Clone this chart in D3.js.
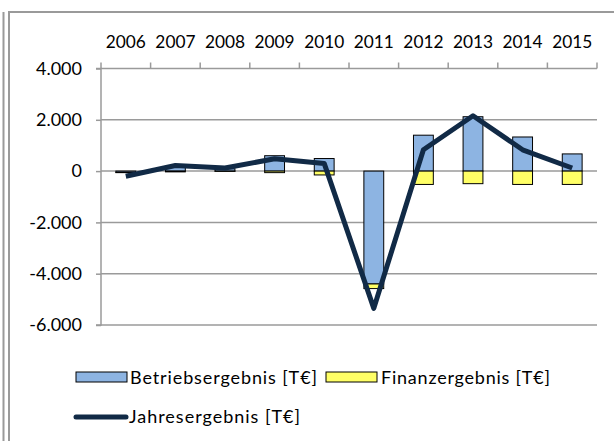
<!DOCTYPE html>
<html><head><meta charset="utf-8">
<script src="https://cdn.jsdelivr.net/npm/d3@7/dist/d3.min.js"></script>
<style>
html,body{margin:0;padding:0;background:#fff;}
svg{display:block;font-family:Lato,"Open Sans",sans-serif;}
</style></head>
<body><svg id="c" width="614" height="441"></svg>
<script>
const years = ["2006","2007","2008","2009","2010","2011","2012","2013","2014","2015"];
const betrieb = [-50, 180, 90, 600, 490, -4400, 1400, 2120, 1330, 670];
const finanz = [-10, -30, -10, -60, -150, -180, -520, -490, -520, -520];
const jahres = [-200, 220, 120, 480, 300, -5350, 830, 2160, 830, 120];
const yTicks = [4000, 2000, 0, -2000, -4000, -6000];
const seriesNames = ["Betriebsergebnis [T€]", "Finanzergebnis [T€]", "Jahresergebnis [T€]"];

(function(){
const svg = d3.select("#c");
const W = 614, H = 441;
const pl = 101, pr = 597, pt = 68.5, pb = 325;
const fmt = v => v === 0 ? "0" : (v < 0 ? "-" : "") + d3.format(",")(Math.abs(v)).replace(/,/g, ".");

// frame lines
const gray = "#9a9a9a";
svg.append("line").attr("x1",3.5).attr("x2",3.5).attr("y1",12).attr("y2",H).attr("stroke",gray).attr("stroke-width",2);
svg.append("line").attr("x1",9).attr("x2",9).attr("y1",12).attr("y2",H).attr("stroke",gray).attr("stroke-width",2);
svg.append("line").attr("x1",8).attr("x2",W).attr("y1",12).attr("y2",12).attr("stroke",gray).attr("stroke-width",2);

const x = d3.scaleBand().domain(years).range([pl, pr]).paddingInner(0.6).paddingOuter(0.3);
const xb = d3.scaleBand().domain(years).range([pl, pr]);
const y = d3.scaleLinear().domain([-6000, 4000]).range([pb, pt]);

// grid lines
svg.append("g").selectAll("line").data(yTicks).join("line")
  .attr("x1", pl).attr("x2", pr)
  .attr("y1", d => y(d)).attr("y2", d => y(d))
  .attr("stroke", gray).attr("stroke-width", 1.5);

// y axis
const ya = svg.append("g").attr("transform", `translate(${pl},0)`)
  .call(d3.axisLeft(y).tickValues(yTicks).tickSize(5).tickPadding(14).tickFormat(fmt));
ya.select(".domain").attr("stroke", gray).attr("stroke-width", 1.5).attr("d", `M-5,${pt}H0V${pb}H-5`);
ya.selectAll(".tick line").attr("stroke", gray).attr("stroke-width", 1.5);
ya.selectAll(".tick text").attr("font-size", 18).attr("fill", "#000").attr("font-family", "Lato");

// x axis at top
const xa = svg.append("g").attr("transform", `translate(0,${pt})`)
  .call(d3.axisTop(xb).tickSize(0).tickPadding(21));
xa.select(".domain").remove();
xa.selectAll(".tick text").attr("font-size", 17.3).attr("fill", "#000").attr("font-family", "Lato");
// category boundary ticks
const bounds = years.map(d => xb(d)).concat([pr]);
svg.append("g").selectAll("line").data(bounds).join("line")
  .attr("x1", d => d).attr("x2", d => d).attr("y1", pt - 6).attr("y2", pt)
  .attr("stroke", gray).attr("stroke-width", 1.5);

// stacked bars
const blue = "#8db4e2", yellow = "#ffff66";
function stackRects(vals, base, color) {
  svg.append("g").selectAll("rect").data(years).join("rect")
    .attr("x", d => x(d))
    .attr("width", x.bandwidth())
    .attr("y", (d, i) => { const b = base[i], v = vals[i]; return y(Math.max(b, b + v)); })
    .attr("height", (d, i) => { const b = base[i], v = vals[i]; return Math.abs(y(b) - y(b + v)); })
    .attr("fill", color).attr("stroke", "#000").attr("stroke-width", 1);
}
const baseB = betrieb.map(() => 0);
const baseF = betrieb.map((v) => v < 0 ? v : 0);
stackRects(betrieb, baseB, blue);
stackRects(finanz, baseF, yellow);

// line
const navy = "#112a46";
const line = d3.line().x((d, i) => xb(years[i]) + xb.bandwidth() / 2).y(d => y(d));
svg.append("path").datum(jahres).attr("d", line)
  .attr("fill", "none").attr("stroke", navy).attr("stroke-width", 5).attr("stroke-linejoin", "round");

// legend
const lg = svg.append("g").attr("font-size", 18).attr("font-family", "Lato");
lg.append("rect").attr("x", 76).attr("y", 372).attr("width", 51).attr("height", 10).attr("fill", blue).attr("stroke", "#000");
lg.append("text").attr("x", 130).attr("y", 377).attr("dominant-baseline", "central")
  .attr("textLength", 187).attr("lengthAdjust", "spacing").text(seriesNames[0]);
lg.append("rect").attr("x", 326).attr("y", 372).attr("width", 51).attr("height", 10).attr("fill", yellow).attr("stroke", "#000");
lg.append("text").attr("x", 381).attr("y", 377).attr("dominant-baseline", "central")
  .attr("textLength", 169).attr("lengthAdjust", "spacing").text(seriesNames[1]);
lg.append("line").attr("x1", 76).attr("x2", 126).attr("y1", 417).attr("y2", 417).attr("stroke", navy).attr("stroke-width", 5).attr("stroke-linecap", "round");
lg.append("text").attr("x", 129).attr("y", 416).attr("dominant-baseline", "central")
  .attr("textLength", 171).attr("lengthAdjust", "spacing").text(seriesNames[2]);
})();
</script></body></html>
